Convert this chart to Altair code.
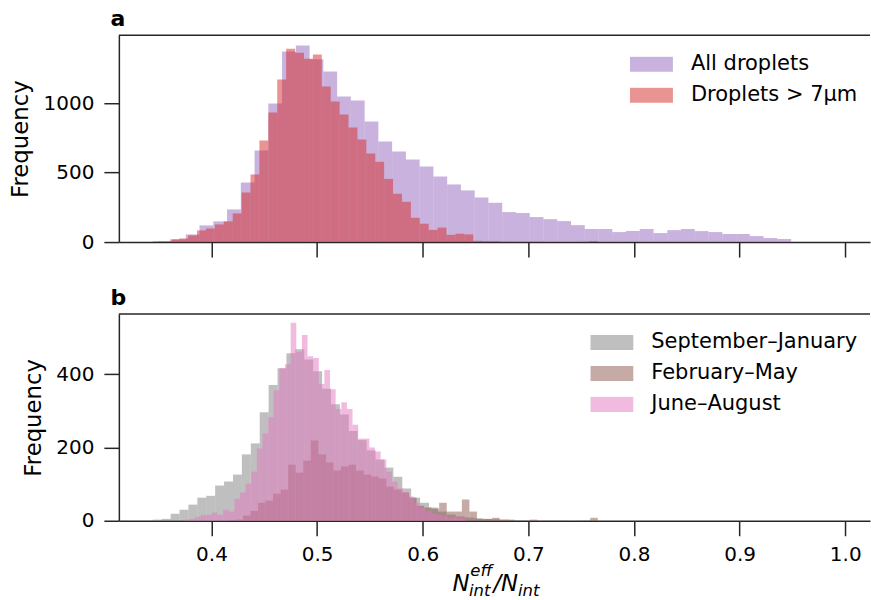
import altair as alt
import pandas as pd

# ---------------- data ----------------
# Panel a : histogram bin start, bin width and counts
all_start = 0.34965
all_width = 0.013024
all_counts = [5, 20, 55, 120, 149, 235, 429, 660, 998, 1372, 1415, 1317, 1228, 1048, 1019,
              868, 724, 652, 595, 544, 472, 415, 372, 321, 283, 216, 209, 180, 165, 151,
              122, 94, 94, 72, 79, 94, 65, 86, 94, 79, 72, 58, 58, 43, 29, 22]

big_start = 0.34418
big_width = 0.008435
big_counts = [5, 5, 19, 26, 48, 84, 98, 127, 149, 206, 357, 487, 731, 933, 1170,
              1393, 1364, 1321, 1350, 1120, 1012, 918, 825, 739, 638, 578, 455, 348, 290, 175,
              132, 88, 104, 52, 60, 55, 9, 7, 6, 3, 2, 2, 2, 2, 1, 1, 1, 1, 2, 7]

# Panel b : seasons
sep_start = 0.34446
sep_width = 0.008435
sep_counts = [3, 5, 19, 30, 44, 63, 68, 96, 107, 126, 181, 211, 296, 370, 416,
              457, 468, 440, 408, 360, 318, 290, 245, 220, 192, 167, 145, 120, 88, 63,
              49, 36, 25, 17, 12, 9, 7, 5, 4, 3, 2, 2, 1, 1, 1, 1, 0, 0, 1, 1]

feb_start = 0.40828
feb_width = 0.007149
feb_counts = [0, 1, 3, 14, 27, 49, 55, 74, 85, 153, 131, 164, 219, 181, 159,
              137, 148, 153, 137, 126, 121, 115, 93, 85, 77, 63, 41, 36, 33, 49,
              25, 25, 58, 25, 5, 5, 8, 3, 3, 0, 0, 3, 0, 0, 0, 0, 0, 0, 0, 8]

jun_start = 0.37383
jun_width = 0.005324
jun_counts = [3, 5, 11, 16, 16, 22, 16, 30, 25, 60, 77, 101, 134, 197, 238,
              282, 356, 416, 427, 540, 460, 507, 449, 444, 373, 411, 359, 305, 323, 305,
              262, 224, 224, 200, 189, 167, 134, 107, 88, 78, 66, 49, 36, 26, 20,
              16, 12, 9, 8, 7]

series_a = ["All droplets", "Droplets > 7μm"]
series_b = ["September–January", "February–May", "June–August"]
colors_a = ["#9467bd", "#d62728"]
colors_b = ["#7f7f7f", "#8c564b", "#e377c2"]

x_ticks = [0.4, 0.5, 0.6, 0.7, 0.8, 0.9, 1.0]
y_ticks_a = [0, 500, 1000]
y_ticks_b = [0, 200, 400]
x_domain = [0.31234, 1.02345]
y_max_a = 1489
y_max_b = 564


def hist_rows(name, start, width, counts):
    rows = []
    for i, c in enumerate(counts):
        x0 = start + i * width
        rows.append({"series": name, "x0": x0, "x1": x0 + width, "count": c})
    return rows


df_a = pd.DataFrame(hist_rows(series_a[0], all_start, all_width, all_counts)
                    + hist_rows(series_a[1], big_start, big_width, big_counts))
df_b = pd.DataFrame(hist_rows(series_b[0], sep_start, sep_width, sep_counts)
                    + hist_rows(series_b[1], feb_start, feb_width, feb_counts)
                    + hist_rows(series_b[2], jun_start, jun_width, jun_counts))

W = 752
H = 207
FONT = "DejaVu Sans"
INK = "#262626"


def legend(lx, ly):
    return alt.Legend(orient="none", legendX=lx, legendY=ly, title=None,
                      symbolType="M-1,-0.35H1V0.35H-1Z", symbolSize=1849,
                      symbolOpacity=0.5, symbolStrokeWidth=0,
                      labelFont=FONT, labelFontSize=21, labelColor="black",
                      labelOffset=18, labelLimit=400, rowPadding=10, clipHeight=16,
                      padding=0)


def panel(df, names, cols, ymax, yticks, show_labels, lx, ly):
    x_axis = alt.Axis(values=x_ticks, format=".1f", labels=show_labels, title=None)
    y_axis = alt.Axis(values=yticks, format="d", title="Frequency")
    bars = alt.Chart(df).mark_rect(opacity=0.5).encode(
        x=alt.X("x0:Q", scale=alt.Scale(domain=x_domain, nice=False, zero=False), axis=x_axis),
        x2="x1:Q",
        y=alt.Y("count:Q", scale=alt.Scale(domain=[0, ymax], nice=False), axis=y_axis),
        y2=alt.datum(0),
        color=alt.Color("series:N", scale=alt.Scale(domain=names, range=cols),
                        legend=legend(lx, ly)),
    )
    top = alt.Chart(pd.DataFrame({"top": [ymax]})).mark_rule(
        color=INK, strokeWidth=1.5).encode(y=alt.Y("top:Q", axis=y_axis))
    return bars, top


bars_a, top_a = panel(df_a, series_a, colors_a, y_max_a, y_ticks_a, False, 511.7, 21)
bars_b, top_b = panel(df_b, series_b, colors_b, y_max_b, y_ticks_b, True, 472, 20.5)


def piece(txt, px, py, size):
    return alt.Chart(pd.DataFrame({"t": [txt]})).mark_text(
        font=FONT, fontStyle="italic", fontSize=size, align="left",
        baseline="alphabetic", color="black").encode(
        text="t:N", x=alt.value(px), y=alt.value(py))


xtitle = [
    piece("N", 334, 277.7, 22.8),
    piece("eff", 351.8, 262.7, 16.5),
    piece("int", 350.5, 282.7, 16.5),
    piece("/N", 375, 277.7, 22.8),
    piece("int", 399.5, 282.7, 16.5),
]


def ptitle(t):
    return alt.TitleParams(t, anchor="start", frame="group", font=FONT, fontSize=22,
                           fontWeight="bold", color="black", dx=-8.3, offset=-13.3,
                           baseline="alphabetic")


panel_a = alt.layer(bars_a, top_a).properties(width=W, height=H, title=ptitle("a"))
panel_b = alt.layer(bars_b, top_b, *xtitle).properties(width=W, height=H, title=ptitle("b"))

chart = alt.vconcat(panel_a, panel_b, spacing=28).resolve_scale(
    color="independent", x="independent", y="independent"
).properties(
    padding={"left": 9, "top": 7, "right": 0, "bottom": 0}
).configure_view(stroke=None).configure_axis(
    grid=False, domainColor=INK, domainWidth=1.5, tickColor=INK, tickWidth=1.5,
    tickSize=15, labelFont=FONT, labelFontSize=20, labelColor="black",
    titleFont=FONT, titleFontSize=22.8, titleFontWeight="normal", titleColor="black"
).configure_axisX(labelPadding=9).configure_axisY(labelPadding=10, titlePadding=10.4)

chart.save("out.html", embed_options={"renderer": "svg", "actions": False})
